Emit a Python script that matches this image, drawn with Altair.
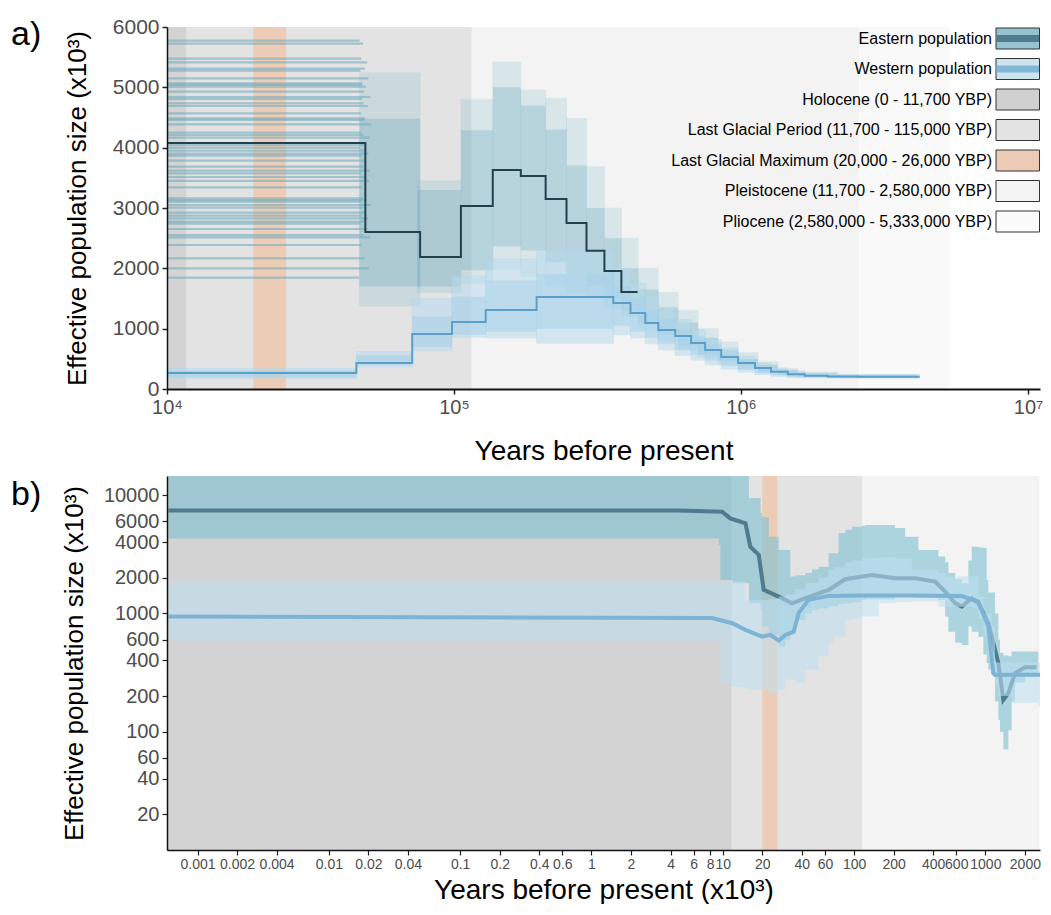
import altair as alt
import pandas as pd

# ---------------- data ----------------
# geological periods, years before present
period_names = ["Pleistocene", "Pliocene", "Last Glacial Period", "Holocene", "Last Glacial Maximum"]
period_start = [11700, 2580000, 11700, 0, 20000]
period_end = [2580000, 5333000, 115000, 11700, 26000]
period_colors = ["#f3f3f3", "#f9f9f9", "#e3e3e3", "#d3d3d3", "#ecccb6"]

# legend entries (panel a)
legend_labels = ["Eastern population", "Western population", "Holocene (0 - 11,700 YBP)",
                 "Last Glacial Period (11,700 - 115,000 YBP)", "Last Glacial Maximum (20,000 - 26,000 YBP)",
                 "Pleistocene (11,700 - 2,580,000 YBP)", "Pliocene (2,580,000 - 5,333,000 YBP)"]
legend_fills = ["#96c3cf", "#cde4ee", "#d0d0d0", "#e3e3e3", "#eccab5", "#f3f3f3", "#fbfbfb"]
legend_stripes = ["#507d8e", "#80b6d6"]

# ---- panel a: PSMC (years, Ne x10^3) ----
east_main_x = [10000, 49100, 76200, 105700, 136500, 170900, 208600, 246600, 289500, 334300, 383000, 436000]
east_main_ne = [4077, 2602, 2188, 3033, 3630, 3530, 3150, 2750, 2290, 1955, 1608, 1608]
west_main_x = [10000, 45700, 71500, 98400, 129000, 194000, 359000, 412000, 464000, 515000, 590000,
               670000, 750000, 853000, 977000, 1119000, 1272000, 1456000, 1667000, 2004000, 2547000, 4190000]
west_main_ne = [265, 431, 912, 1110, 1309, 1525, 1425, 1260, 1094, 978, 878, 762, 646, 530, 431, 350,
                287, 245, 221, 208, 205, 205]

# eastern bootstrap replicates: most ancient level and where it ends
east_boot_level = [5774, 5724, 5475, 5414, 5310, 5276, 5149, 5066, 5040, 5011, 4928, 4840, 4807, 4735,
                   4691, 4569, 4486, 4459, 4387, 4249, 4210, 4166, 4044, 4000, 3950, 3901, 3867, 3784,
                   3685, 3619, 3575, 3514, 3448, 3343, 3160, 3130, 3105, 3050, 3006, 2923, 2873, 2829,
                   2773, 2740, 2652, 2552, 2514, 2387, 2166, 2000, 1845]
east_boot_end = [46900, 48200, 47500, 49800, 48900, 47200, 50400, 48100, 47700, 49300, 48600, 51200,
                 47900, 48400, 50100, 47400, 49000, 48700, 51500, 47600, 48300, 50800, 49600, 47100,
                 48800, 50300, 47800, 49100, 48500, 51000, 47300, 48900, 50600, 47900, 48200, 49700,
                 47500, 51300, 48100, 49400, 47700, 50200, 48600, 47200, 49900, 48400, 51100, 47600,
                 48800, 50500, 46800]

# bootstrap envelopes (outer range and dense core) per time segment
ec_x0 = [46800, 74500, 105700, 136500, 170900, 208600, 246600, 289500, 334300, 383000, 438500, 515000,
         604000, 709000, 832000, 977000, 1146000, 1344000, 1577000, 2171000]
ec_x1 = [76200, 105700, 136500, 170900, 208600, 246600, 289500, 334300, 383000, 438500, 515000, 604000,
         709000, 832000, 977000, 1146000, 1344000, 1577000, 2171000, 4115000]
ec_out_hi = [5240, 3450, 4800, 5420, 4956, 4818, 4486, 3685, 3000, 2500, 2000, 1600, 1300, 1000, 780, 600, 450, 340, 280, 240]
ec_out_lo = [1376, 1600, 1750, 1972, 1862, 1696, 1590, 1525, 1330, 1200, 1000, 800, 640, 520, 420, 330, 270, 230, 200, 190]
ec_core_hi = [4480, 3300, 4290, 5000, 4700, 4300, 3700, 3000, 2500, 2000, 1650, 1350, 1100, 850, 650, 500, 400, 310, 260, 230]
ec_core_lo = [1700, 1700, 1970, 2360, 2300, 2100, 1900, 1700, 1500, 1300, 1100, 900, 720, 580, 460, 370, 290, 240, 210, 195]

wc_x0 = [10000, 45700, 71500, 98400, 129000, 194000, 359000, 412000, 464000, 515000, 590000, 670000,
         750000, 853000, 977000, 1119000, 1272000, 1456000, 1667000, 2004000]
wc_x1 = [45700, 71500, 98400, 129000, 194000, 359000, 412000, 464000, 515000, 590000, 670000, 750000,
         853000, 977000, 1119000, 1272000, 1456000, 1667000, 2004000, 4190000]
wc_out_hi = [340, 620, 1500, 1870, 2150, 2300, 2000, 1750, 1550, 1350, 1150, 980, 820, 680, 540, 430, 350, 300, 260, 240]
wc_out_lo = [180, 370, 640, 860, 850, 760, 900, 850, 750, 650, 560, 480, 400, 330, 280, 240, 210, 190, 185, 180]
wc_core_hi = [310, 560, 1200, 1530, 1800, 1900, 1700, 1500, 1300, 1150, 1000, 880, 740, 600, 480, 390, 320, 280, 240, 225]
wc_core_lo = [200, 400, 700, 900, 950, 1000, 1050, 950, 850, 750, 650, 560, 470, 380, 320, 270, 230, 200, 195, 190]

# ---- panel b: x10^3 years, Ne x10^3 (log) ----
eb_x = [0.0006, 8.29, 9.33, 9.6, 11.8, 15.8, 19.4, 20.0, 22.4, 26.7, 30, 32.7, 35.7, 42.5, 47.8, 53.7, 64,
        76.2, 85.7, 96.2, 115, 122, 205, 245, 309, 439, 494, 523, 589, 661, 743, 788, 885, 966, 1024,
        1054, 1185, 1256, 1293, 1371, 1497, 1585, 1682, 2005, 2388, 2530]
eb_hi = [16000, 16000, 16000, 16000, 16000, 9430, 7050, 6500, 4450, 3440, 3440, 2050, 2100, 2200, 2350,
         2480, 3230, 4780, 5100, 5400, 5500, 5580, 5260, 4450, 3440, 3020, 2700, 2200, 1950, 1800, 2800,
         3660, 3600, 3570, 1920, 1500, 1000, 600, 465, 440, 434, 476, 476, 476, 476, 335]
eb_lo = [4300, 4300, 3790, 1920, 1800, 1220, 1070, 775, 650, 525, 600, 700, 880, 1000, 1070, 1100, 1150,
         1200, 1220, 1250, 1300, 1320, 1387, 1387, 1350, 1300, 940, 700, 565, 540, 775, 700, 635, 450, 380,
         335, 180, 126, 100, 71, 103, 180, 260, 294, 294, 294]

wb_x = [0.0006, 8.29, 9.33, 9.6, 11.8, 14.9, 15.8, 22.4, 26.7, 30, 35.7, 42.5, 53.7, 64, 70, 85.7, 96.2,
        115, 154, 205, 275, 439, 494, 661, 788, 885, 966, 1117, 1185, 1256, 1585, 2388, 2530, 2900]
wb_hi = [1870, 1870, 1870, 1870, 1870, 1300, 1300, 1320, 1387, 1450, 1600, 1800, 2000, 2330, 2450, 2700,
         2800, 2940, 3000, 2900, 2330, 2200, 2050, 2050, 2050, 1387, 1000, 775, 385, 385, 385, 385, 385, 385]
wb_lo = [590, 590, 590, 260, 240, 230, 226, 212, 226, 276, 260, 335, 434, 560, 635, 880, 900, 940, 1220,
         1240, 1260, 1140, 1140, 1140, 1100, 900, 635, 294, 250, 200, 176, 176, 165, 165]

el_x = [0.0006, 4.6, 9.9, 11.4, 14.9, 16.2, 18.8, 20.5, 26.7, 33.7, 42.5, 64, 85.7, 136, 205, 292, 414,
        494, 589, 661, 788, 885, 1054, 1256, 1371, 1497, 1682, 2005, 2455]
el_y = [7400, 7400, 7230, 6360, 5770, 3660, 3120, 1580, 1387, 1218, 1343, 1580, 1945, 2113, 1983, 1983,
        1855, 1527, 1218, 1141, 1343, 1218, 826, 380, 186, 212, 313, 351, 351]
wl_x = [0.0006, 8.3, 11.8, 14.9, 19.9, 23, 26.7, 30, 34.7, 37.8, 45, 64, 115, 275, 661, 885, 1054, 1150, 1185, 2900]
wl_y = [940, 915, 826, 726, 637, 658, 589, 658, 701, 1005, 1300, 1406, 1420, 1420, 1400, 1260, 774, 313, 303, 303]

xa_ticks = [1e4, 1e5, 1e6, 1e7]
ya_ticks = [0, 1000, 2000, 3000, 4000, 5000, 6000]
xb_ticks = [0.001, 0.002, 0.004, 0.01, 0.02, 0.04, 0.1, 0.2, 0.4, 0.6, 1, 2, 4, 6, 8, 10, 20, 40, 60,
            100, 200, 400, 600, 1000, 2000]
yb_ticks = [20, 40, 60, 100, 200, 400, 600, 1000, 2000, 4000, 6000, 10000]

# ---------------- chart ----------------
W_A, H_A = 873, 362
W_B, H_B = 873, 374
FONT = "Liberation Sans"
NARROW = "Liberation Sans Narrow, Liberation Sans"
LAB = "#4d4d4d"

periods = pd.DataFrame({"name": period_names, "start": period_start, "end": period_end, "color": period_colors})

xa = alt.Scale(type="log", domain=[1e4, 1.1011e7], nice=False)
ya = alt.Scale(domain=[0, 6000], nice=False, zero=False)
axis_xa = alt.Axis(values=xa_ticks, grid=False, title="Years before present", titleFontSize=28,
                   titleFontWeight="normal", titleColor="black", titlePadding=20, zindex=1,
                   labelExpr="datum.value < 5e4 ? '10⁴' : datum.value < 5e5 ? '10⁵' : datum.value < 5e6 ? '10⁶' : '10⁷'",
                   labelFontSize=20, labelColor=LAB, labelPadding=3, labelFlush=False,
                   tickSize=5, tickColor="#222", tickWidth=1.5, domainColor="#111", domainWidth=2)
axis_ya = alt.Axis(values=ya_ticks, grid=False, title="Effective population size (x10³)", titleFontSize=26,
                   titleFontWeight="normal", titleColor="black", titlePadding=22, zindex=1,
                   labelFontSize=21, labelColor=LAB, labelPadding=3, format="d",
                   tickSize=5, tickColor="#222", tickWidth=1.5, domainColor="#111", domainWidth=1.5)


def XA(f):
    return alt.X(f, type="quantitative", scale=xa, axis=axis_xa)


def YA(f):
    return alt.Y(f, type="quantitative", scale=ya, axis=axis_ya)


bg_a = alt.Chart(periods).transform_calculate(
    xs="max(datum.start, 5000)", y0="0", y1="6000").mark_rect(clip=True).encode(
    x=XA("xs"), x2="end:Q", y=YA("y0"), y2="y1:Q", color=alt.Color("color:N", scale=None))

boot = pd.DataFrame({"level": east_boot_level, "end": east_boot_end})
boot_lines = alt.Chart(boot).transform_calculate(xs="5000").mark_rule(
    clip=True, strokeWidth=2.2, color="#5fa3ba", opacity=0.5).encode(x=XA("xs"), x2="end:Q", y=YA("level"))

ec = pd.DataFrame({"x0": ec_x0, "x1": ec_x1, "ohi": ec_out_hi, "olo": ec_out_lo, "chi": ec_core_hi, "clo": ec_core_lo})
wc = pd.DataFrame({"x0": wc_x0, "x1": wc_x1, "ohi": wc_out_hi, "olo": wc_out_lo, "chi": wc_core_hi, "clo": wc_core_lo})

ec_out = alt.Chart(ec).mark_rect(clip=True, color="#7ab6c8", opacity=0.22, stroke="#7ab6c8", strokeWidth=1,
                                 strokeOpacity=0.7).encode(x=XA("x0"), x2="x1:Q", y=YA("olo"), y2="ohi:Q")
ec_core = alt.Chart(ec).mark_rect(clip=True, color="#6aaabf", opacity=0.3).encode(
    x=XA("x0"), x2="x1:Q", y=YA("clo"), y2="chi:Q")
wc_out = alt.Chart(wc).mark_rect(clip=True, color="#b5dbef", opacity=0.5, stroke="#a9d3ea", strokeWidth=0.8).encode(
    x=XA("x0"), x2="x1:Q", y=YA("olo"), y2="ohi:Q")
wc_core = alt.Chart(wc).mark_rect(clip=True, color="#a3d0ea", opacity=0.5).encode(
    x=XA("x0"), x2="x1:Q", y=YA("clo"), y2="chi:Q")

em = pd.DataFrame({"x": east_main_x, "ne": east_main_ne})
wm = pd.DataFrame({"x": west_main_x, "ne": west_main_ne})
em_line = alt.Chart(em).mark_line(interpolate="step-after", color="#23404f", strokeWidth=2, clip=True).encode(
    x=XA("x"), y=YA("ne"))
wm_line = alt.Chart(wm).mark_line(interpolate="step-after", color="#5a9fca", strokeWidth=2, clip=True).encode(
    x=XA("x"), y=YA("ne"))

data_a = alt.layer(bg_a, boot_lines, ec_out, ec_core, wc_out, wc_core, wm_line, em_line)

# legend drawn inside panel a (pixel scales)
leg = pd.DataFrame({"label": legend_labels, "fill": legend_fills, "r": list(range(len(legend_labels)))})
lx = alt.Scale(domain=[0, W_A], nice=False)
ly = alt.Scale(domain=[0, H_A], nice=False, reverse=True)
leg_base = alt.Chart(leg).transform_calculate(
    yc="11.5 + datum.r * 30.5", y0="datum.yc - 10.5", y1="datum.yc + 10.5", bx0="829", bx1="872.5")
leg_box = leg_base.mark_rect(stroke="#333333", strokeWidth=1).encode(
    x=alt.X("bx0:Q", scale=lx, axis=None), x2="bx1:Q",
    y=alt.Y("y0:Q", scale=ly, axis=None), y2="y1:Q", color=alt.Color("fill:N", scale=None))
strip = pd.DataFrame({"fill": legend_stripes, "r": [0, 1]})
leg_strip = alt.Chart(strip).transform_calculate(
    yc="11.5 + datum.r * 30.5", s0="datum.yc - 3.5", s1="datum.yc + 3.5", bx0="829.5", bx1="872").mark_rect().encode(
    x=alt.X("bx0:Q", scale=lx, axis=None), x2="bx1:Q",
    y=alt.Y("s0:Q", scale=ly, axis=None), y2="s1:Q", color=alt.Color("fill:N", scale=None))
leg_text = leg_base.mark_text(align="right", baseline="middle", fontSize=16, color="black", font=FONT).encode(
    x=alt.value(825), y=alt.Y("yc:Q", scale=ly, axis=None), text="label:N")
tag_a = alt.Chart(pd.DataFrame({"t": ["a)"]})).mark_text(
    align="left", baseline="alphabetic", fontSize=34, color="black", font=FONT).encode(
    x=alt.value(-156), y=alt.value(18), text="t:N")

panel_a = alt.layer(data_a, leg_box, leg_strip, leg_text, tag_a).resolve_scale(
    x="independent", y="independent").properties(width=W_A, height=H_A)

# ---------------- panel b ----------------
xb = alt.Scale(type="log", domain=[0.000585, 2607], nice=False)
yb = alt.Scale(type="log", domain=[10, 14500], nice=False)
axis_xb = alt.Axis(values=xb_ticks, format="~g", grid=False, title="Years before present (x10³)",
                   titleFontSize=28, titleFontWeight="normal", titleColor="black", titlePadding=5, zindex=1,
                   labelFont=NARROW, labelFontSize=14, labelColor=LAB, labelPadding=2, labelOverlap=False,
                   labelFlush=False, tickSize=5, tickColor="#222", tickWidth=1.2, domainColor="#111", domainWidth=1.5)
axis_yb = alt.Axis(values=yb_ticks, format="d", grid=False, title="Effective population size (x10³)",
                   titleFontSize=26, titleFontWeight="normal", titleColor="black", titlePadding=16, zindex=1,
                   labelFontSize=20, labelColor=LAB, labelPadding=3, labelOverlap=False, labelFlush=False,
                   tickSize=5, tickColor="#222", tickWidth=1.2, domainColor="#111", domainWidth=1.5)


def XB(f):
    return alt.X(f, type="quantitative", scale=xb, axis=axis_xb)


def YB(f):
    return alt.Y(f, type="quantitative", scale=yb, axis=axis_yb)


bg_b = alt.Chart(periods).transform_calculate(
    xs="max(datum.start / 1000, 0.0003)", xe="datum.end / 1000", y0="5", y1="20000").mark_rect(clip=True).encode(
    x=XB("xs"), x2="xe:Q", y=YB("y0"), y2="y1:Q", color=alt.Color("color:N", scale=None))

ebd = pd.DataFrame({"x": eb_x, "hi": eb_hi, "lo": eb_lo})
wbd = pd.DataFrame({"x": wb_x, "hi": wb_hi, "lo": wb_lo})
eld = pd.DataFrame({"x": el_x, "y": el_y})
wld = pd.DataFrame({"x": wl_x, "y": wl_y})

eb_area = alt.Chart(ebd).mark_area(clip=True, color="#7cc0d2", opacity=0.6, interpolate="step-after").encode(
    x=XB("x"), y=YB("lo"), y2="hi:Q")
el_line = alt.Chart(eld).mark_line(clip=True, color="#4e7b8e", strokeWidth=4).encode(x=XB("x"), y=YB("y"))
wb_area = alt.Chart(wbd).mark_area(clip=True, color="#bde0f3", opacity=0.55, interpolate="step-after").encode(
    x=XB("x"), y=YB("lo"), y2="hi:Q")
wl_line = alt.Chart(wld).mark_line(clip=True, color="#7db3d4", strokeWidth=4).encode(x=XB("x"), y=YB("y"))

tag_b = alt.Chart(pd.DataFrame({"t": ["b)"]})).mark_text(
    align="left", baseline="alphabetic", fontSize=34, color="black", font=FONT).encode(
    x=alt.value(-156), y=alt.value(29), text="t:N")

panel_b = alt.layer(bg_b, eb_area, el_line, wb_area, wl_line, tag_b).properties(width=W_B, height=H_B)

chart = alt.vconcat(panel_a, panel_b, spacing=11).properties(
    padding={"left": 3, "top": 8, "right": 0, "bottom": 0}
).configure(font=FONT).configure_view(stroke=None)

chart.save("out.html", embed_options={"renderer": "svg", "actions": False})
